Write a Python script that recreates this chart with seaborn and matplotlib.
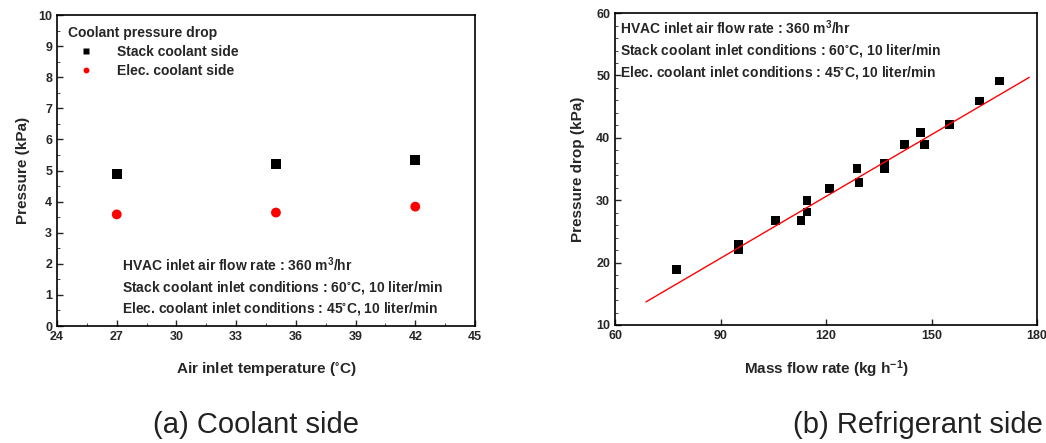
import numpy as np
import pandas as pd
import seaborn as sns
import matplotlib.pyplot as plt
from matplotlib.ticker import MultipleLocator

# (a) coolant side
air_temp = [27, 35, 42]
stack_dp = [4.9, 5.22, 5.34]
elec_dp = [3.59, 3.65, 3.84]

# (b) refrigerant side
mass_flow = [77.5, 95.1, 95.1, 105.7, 112.9, 114.6, 114.6, 120.9, 128.8,
             129.4, 136.6, 136.6, 142.3, 146.8, 148.0, 155.2, 163.7, 169.4]
refrig_dp = [18.9, 22.9, 22.1, 26.8, 26.8, 30.0, 28.1, 31.9, 35.1,
             32.8, 35.9, 35.1, 38.9, 40.9, 38.9, 42.1, 45.9, 49.1]
fit_x = [68.8, 177.8]
fit_y = [13.7, 49.7]

conditions = ["HVAC inlet air flow rate : 360 m$^3$/hr",
              "Stack coolant inlet conditions : 60$^{\\circ}$C, 10 liter/min",
              "Elec. coolant inlet conditions : 45$^{\\circ}$C, 10 liter/min"]

sns.set_style("ticks")
plt.rcParams['font.family'] = ['Liberation Sans', 'DejaVu Sans']
plt.rcParams['font.weight'] = 'bold'
plt.rcParams['axes.labelweight'] = 'bold'
plt.rcParams['mathtext.default'] = 'regular'

fig = plt.figure(figsize=(10.46, 4.43), dpi=100)
ax1 = fig.add_axes([0.0545, 0.264, 0.3996, 0.702])
ax2 = fig.add_axes([0.588, 0.2664, 0.4034, 0.704])

df_a = pd.DataFrame({"temp": air_temp * 2,
                     "dp": stack_dp + elec_dp,
                     "side": ["Stack coolant side"] * 3 + ["Elec. coolant side"] * 3})
sns.scatterplot(data=df_a, x="temp", y="dp", hue="side", style="side",
                palette=["black", "red"], markers=["s", "o"], s=50,
                edgecolor="none", ax=ax1)
ax1.set_xlim(24, 45)
ax1.set_ylim(0, 10)
ax1.xaxis.set_major_locator(MultipleLocator(3))
ax1.xaxis.set_minor_locator(MultipleLocator(1.5))
ax1.yaxis.set_major_locator(MultipleLocator(1))
ax1.yaxis.set_minor_locator(MultipleLocator(0.5))
ax1.set_xlabel("Air inlet temperature ($^{\\circ}$C)", fontsize=11, labelpad=12)
ax1.set_ylabel("Pressure (kPa)", fontsize=11, labelpad=6)
leg = ax1.legend(title="Coolant pressure drop", loc="upper left", frameon=False,
                 fontsize=10, title_fontsize=10, markerscale=0.6,
                 borderaxespad=0.4, handletextpad=0.9, labelspacing=0.35,
                 handlelength=2.6)
leg._legend_box.align = "left"
leg.get_title().set_fontweight("bold")
for i, t in enumerate(conditions):
    ax1.text(0.155, 0.196 - i * 0.0705, t, transform=ax1.transAxes,
             fontsize=10, va="center")

df_b = pd.DataFrame({"flow": mass_flow, "dp": refrig_dp})
sns.lineplot(x=fit_x, y=fit_y, color="red", lw=1, ax=ax2)
sns.scatterplot(data=df_b, x="flow", y="dp", marker="s", color="black", s=40,
                edgecolor="none", ax=ax2)
ax2.set_xlim(60, 180)
ax2.set_ylim(10, 60)
ax2.xaxis.set_major_locator(MultipleLocator(30))
ax2.yaxis.set_major_locator(MultipleLocator(10))
ax2.yaxis.set_minor_locator(MultipleLocator(2))
ax2.set_xlabel("Mass flow rate (kg h$^{-1}$)", fontsize=11, labelpad=12)
ax2.set_ylabel("Pressure drop (kPa)", fontsize=11, labelpad=8)
for i, t in enumerate(conditions):
    ax2.text(0.012, 0.952 - i * 0.0705, t, transform=ax2.transAxes,
             fontsize=10, va="center")

for ax in (ax1, ax2):
    ax.tick_params(direction="in", labelsize=9, length=4, width=1)
    ax.tick_params(which="minor", direction="in", length=2)
    for sp in ax.spines.values():
        sp.set_linewidth(1.2)
        sp.set_color("black")

fig.text(0.245, 0.04, "(a) Coolant side", fontsize=21, ha="center",
         va="center", weight="normal", color="#222222")
fig.text(0.8776, 0.04, "(b) Refrigerant side", fontsize=21, ha="center",
         va="center", weight="normal", color="#222222")

fig.savefig("out.png", dpi=100)
